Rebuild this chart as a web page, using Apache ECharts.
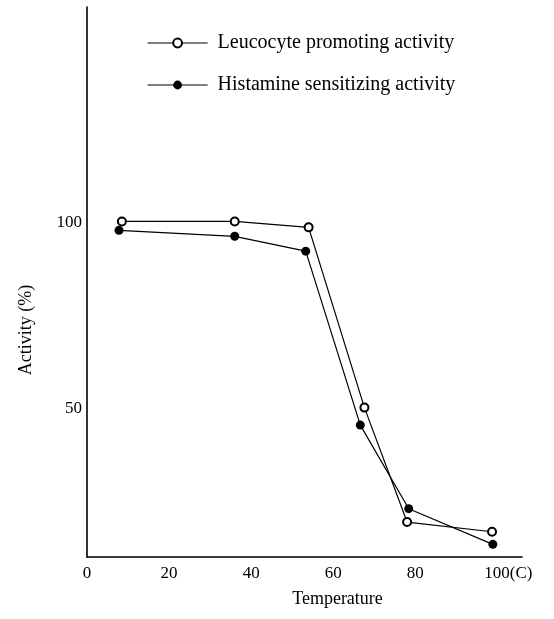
<!DOCTYPE html>
<html>
<head>
<meta charset="utf-8">
<script src="https://cdn.jsdelivr.net/npm/echarts@6/dist/echarts.min.js"></script>
<style>
  html, body { margin: 0; padding: 0; background: #fff; }
  #chart { width: 554px; height: 619px; }
</style>
</head>
<body>
<div id="chart"></div>
<script>
// Heat stability of the two activities — temperature vs remaining activity
var temperatureLeuco = [8.5, 36, 54, 67.6, 78, 98.7];
var activityLeuco = [100.3, 100.3, 98.7, 50.2, 19.4, 16.8];
var temperatureHista = [7.8, 36, 53.3, 66.6, 78.4, 98.9];
var activityHista = [97.9, 96.3, 92.3, 45.5, 23.0, 13.4];
var seriesNames = ['Leucocyte promoting activity', 'Histamine sensitizing activity'];
var xTicks = [0, 20, 40, 60, 80, 100];
var yTicks = [50, 100];

function pairs(xs, ys) {
  return xs.map(function (x, i) { return [x, ys[i]]; });
}

var ink = '#000';
var serif = '"Liberation Serif", "DejaVu Serif", serif';

var chart = echarts.init(document.getElementById('chart'), null, { renderer: 'canvas' });
chart.setOption({
  animation: false,
  backgroundColor: '#fff',
  grid: { left: 87, right: 32, top: 7, bottom: 62 },
  legend: {
    orient: 'vertical',
    left: 147,
    top: 33,
    padding: 0,
    itemWidth: 60,
    itemHeight: 11,
    itemGap: 22,
    data: seriesNames,
    lineStyle: { color: ink, width: 1.2 },
    textStyle: { color: ink, fontFamily: serif, fontSize: 20, padding: [0, 0, 0, 5] }
  },
  xAxis: {
    type: 'value',
    min: 0,
    max: 106,
    interval: 20,
    name: 'Temperature',
    nameLocation: 'middle',
    nameGap: 33,
    nameTextStyle: { color: ink, fontFamily: serif, fontSize: 18, padding: [0, 0, 0, 66] },
    axisLine: { lineStyle: { color: ink, width: 1.6 } },
    axisTick: { show: false },
    splitLine: { show: false },
    axisLabel: {
      color: ink,
      fontFamily: serif,
      fontSize: 17,
      margin: 8,
      showMaxLabel: false,
      formatter: function (v) {
        if (xTicks.indexOf(v) < 0) return '';
        return v === 100 ? '{p|}100(C)' : String(v);
      },
      rich: { p: { width: 22 } }
    }
  },
  yAxis: {
    type: 'value',
    min: 10,
    max: 158,
    interval: 10,
    name: 'Activity (%)',
    nameLocation: 'middle',
    nameRotate: 90,
    nameGap: 52,
    nameTextStyle: { color: ink, fontFamily: serif, fontSize: 18, padding: [0, 96, 0, 0] },
    axisLine: { show: true, lineStyle: { color: ink, width: 1.6 } },
    axisTick: { show: false },
    splitLine: { show: false },
    axisLabel: {
      color: ink,
      fontFamily: serif,
      fontSize: 17,
      margin: 5,
      formatter: function (v) { return yTicks.indexOf(v) >= 0 ? String(v) : ''; }
    }
  },
  series: [
    {
      name: seriesNames[0],
      type: 'line',
      data: pairs(temperatureLeuco, activityLeuco),
      symbol: 'emptyCircle',
      symbolSize: 8,
      lineStyle: { color: ink, width: 1.2 },
      itemStyle: { color: ink, borderColor: ink, borderWidth: 1.3 }
    },
    {
      name: seriesNames[1],
      type: 'line',
      data: pairs(temperatureHista, activityHista),
      symbol: 'circle',
      symbolSize: 9,
      lineStyle: { color: ink, width: 1.2 },
      itemStyle: { color: ink }
    }
  ]
});
window.addEventListener('resize', function () { chart.resize(); });
</script>
</body>
</html>
